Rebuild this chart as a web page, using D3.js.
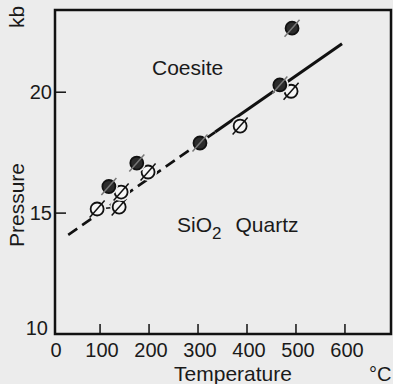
<!DOCTYPE html>
<html lang="en">
<head>
<meta charset="utf-8">
<title>Coesite - Quartz</title>
<script src="https://d3js.org/d3.v7.min.js"></script>
<style>
  body { margin: 0; background: #ececec; }
  text { font-family: "Liberation Sans", Arial, sans-serif; fill: #1a1a1a; }
</style>
</head>
<body>
<script>
  // values
  const xTicks = [0, 100, 200, 300, 400, 500, 600];
  const yTicks = [10, 15, 20];

  // coesite runs (filled circles)
  const coesiteT = [118, 175, 304, 467, 492];
  const coesiteP = [16.1, 17.07, 17.9, 20.3, 22.65];

  // quartz runs (open circles)
  const quartzT = [94, 139, 143, 198, 386, 490];
  const quartzP = [15.17, 15.25, 15.87, 16.7, 18.6, 20.04];

  // short bar joining the two 15 kb runs
  const barT = [94, 139];
  const barP = [15.17, 15.25];

  // phase boundary: dashed part then solid part
  const dashedT = [35, 335];
  const dashedP = [14.1, 18.35];
  const solidT = [335, 594];
  const solidP = [18.35, 22.0];

  const W = 393, H = 384;
  const box = { left: 55, top: 10, right: 391, bottom: 334 };
  const bg = "#ececec";

  const svg = d3.select("body").append("svg")
    .attr("width", W)
    .attr("height", H);

  svg.append("rect")
    .attr("width", W).attr("height", H)
    .attr("fill", bg);

  const x = d3.scaleLinear().domain([8, 694]).range([box.left, box.right]);
  const y = d3.scaleLinear().domain([10, 23.4]).range([box.bottom, box.top]);

  // frame
  svg.append("rect")
    .attr("x", box.left).attr("y", box.top)
    .attr("width", box.right - box.left)
    .attr("height", box.bottom - box.top)
    .attr("fill", "none")
    .attr("stroke", "#111")
    .attr("stroke-width", 2.5);

  // x ticks (inward) and labels
  svg.append("g").selectAll("line")
    .data(xTicks.filter(d => d > 0))
    .join("line")
    .attr("x1", d => x(d)).attr("x2", d => x(d))
    .attr("y1", box.bottom).attr("y2", box.bottom - 10)
    .attr("stroke", "#111").attr("stroke-width", 1.5);

  svg.append("g").selectAll("text")
    .data(xTicks)
    .join("text")
    .attr("x", d => x(d) + (d === 0 ? 5 : 2))
    .attr("y", 357)
    .attr("text-anchor", "middle")
    .attr("font-size", 20)
    .text(d => d);

  // y ticks (inward) and labels
  svg.append("g").selectAll("line")
    .data(yTicks.filter(d => d > 10))
    .join("line")
    .attr("x1", box.left).attr("x2", box.left + 11)
    .attr("y1", d => y(d)).attr("y2", d => y(d))
    .attr("stroke", "#111").attr("stroke-width", 1.5);

  svg.append("g").selectAll("text")
    .data(yTicks)
    .join("text")
    .attr("x", d => d === 10 ? 48 : 52)
    .attr("y", d => d === 10 ? y(d) - 6 : y(d))
    .attr("dy", "0.36em")
    .attr("text-anchor", "end")
    .attr("font-size", 20)
    .text(d => d);

  // axis titles
  svg.append("text")
    .attr("x", 233).attr("y", 381)
    .attr("text-anchor", "middle")
    .attr("font-size", 21)
    .text("Temperature");

  svg.append("text")
    .attr("x", 369).attr("y", 381)
    .attr("font-size", 20)
    .text("°C");

  svg.append("text")
    .attr("transform", "translate(24,205) rotate(-90)")
    .attr("text-anchor", "middle")
    .attr("font-size", 21)
    .text("Pressure");

  svg.append("text")
    .attr("transform", "translate(24,17) rotate(-90)")
    .attr("text-anchor", "middle")
    .attr("font-size", 21)
    .text("kb");

  // field labels
  svg.append("text")
    .attr("x", 152).attr("y", 75)
    .attr("font-size", 21)
    .text("Coesite");

  const q = svg.append("text")
    .attr("x", 177).attr("y", 232)
    .attr("font-size", 21);
  q.append("tspan").text("SiO");
  q.append("tspan").attr("dy", 7).attr("font-size", 17).text("2");
  q.append("tspan").attr("dy", -7).attr("dx", 14).text("Quartz");

  // boundary
  const line = d3.line().x(d => x(d[0])).y(d => y(d[1]));

  svg.append("path")
    .datum(d3.zip(dashedT, dashedP))
    .attr("d", line)
    .attr("fill", "none")
    .attr("stroke", "#111")
    .attr("stroke-width", 2.6)
    .attr("stroke-dasharray", "11,6");

  svg.append("path")
    .datum(d3.zip(solidT, solidP))
    .attr("d", line)
    .attr("fill", "none")
    .attr("stroke", "#111")
    .attr("stroke-width", 3);

  svg.append("path")
    .datum(d3.zip(barT, barP))
    .attr("d", line)
    .attr("fill", "none")
    .attr("stroke", "#111")
    .attr("stroke-width", 1.6);

  // markers
  const r = 6.5;
  const pts = d3.zip(quartzT, quartzP).map(d => ({ t: d[0], p: d[1], filled: false }))
    .concat(d3.zip(coesiteT, coesiteP).map(d => ({ t: d[0], p: d[1], filled: true })));

  const mk = svg.append("g").selectAll("g")
    .data(pts)
    .join("g")
    .attr("transform", d => "translate(" + x(d.t) + "," + y(d.p) + ")");

  mk.append("circle")
    .attr("r", r + 2.5)
    .attr("fill", bg);

  mk.append("circle")
    .attr("r", r)
    .attr("fill", d => d.filled ? "#2b2b2b" : "#f6f6f6")
    .attr("stroke", "#111")
    .attr("stroke-width", 1.8);

  mk.append("line")
    .attr("x1", -r - 1).attr("y1", r + 2)
    .attr("x2", r + 1).attr("y2", -r - 2)
    .attr("stroke", d => d.filled ? "#777" : "#111")
    .attr("stroke-width", 1.5);
</script>
</body>
</html>
